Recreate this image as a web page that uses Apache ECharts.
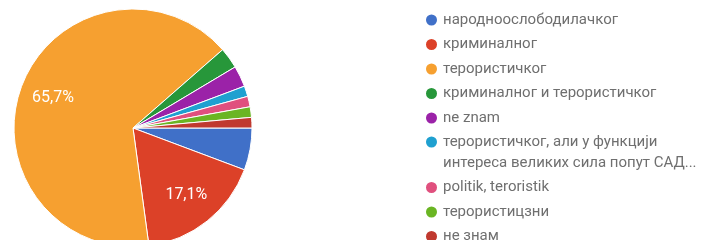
<!DOCTYPE html>
<html>
<head>
<meta charset="utf-8">
<script src="https://cdn.jsdelivr.net/npm/echarts@6/dist/echarts.min.js"></script>
<style>
  html, body { margin: 0; padding: 0; background: #fff; }
  #chart { width: 719px; height: 240px; }
</style>
</head>
<body>
<div id="chart"></div>
<script>
// одговори (редослед као у легенди)
const categories = [
  'народноослободилачког',
  'криминалног',
  'терористичког',
  'криминалног и терористичког',
  'ne znam',
  'терористичког, али у функцији интереса великих сила попут САД...',
  'politik, teroristik',
  'терористицзни',
  'не знам'
]
const counts = [4, 12, 46, 2, 2, 1, 1, 1, 1]
const colors = ['#4070c8', '#dc4128', '#f6a030', '#27973a', '#9b22a8', '#1fa0d0', '#e0507e', '#6ab523', '#c0392f']

const total = counts.reduce((a, b) => a + b, 0)
const pieData = categories.map((name, i) => ({ name: name, value: counts[i] }))

const chart = echarts.init(document.getElementById('chart'))

const legendText = {
  fontFamily: 'Roboto',
  fontSize: 15,
  color: '#6f6f6f',
  lineHeight: 21
}

chart.setOption({
  animation: false,
  color: colors,
  legend: [
    {
      // први део легенде
      orient: 'vertical',
      left: 424,
      top: 9.5,
      padding: 0,
      itemGap: 3.5,
      itemWidth: 13,
      itemHeight: 13,
      icon: 'circle',
      textStyle: legendText,
      data: categories.slice(0, 5)
    },
    {
      // други део: прва ставка у два реда, празан ред изнад да би први ред стао уз круг
      orient: 'vertical',
      left: 424,
      top: 110.5,
      padding: 0,
      itemGap: 3.5,
      itemWidth: 13,
      itemHeight: 13,
      icon: 'circle',
      textStyle: legendText,
      formatter: function (name) {
        if (name.indexOf('функцији ') < 0) return name
        return ' \n' + name.replace('функцији ', 'функцији\n')
      },
      data: categories.slice(5)
    }
  ],
  series: [
    {
      type: 'pie',
      center: [133, 128],
      radius: 119,
      startAngle: 0,
      clockwise: true,
      avoidLabelOverlap: false,
      itemStyle: { borderColor: '#fff', borderWidth: 1 },
      label: { show: false },
      labelLine: { show: false },
      data: pieData
    },
    {
      // проценти унутар великих исечака
      type: 'pie',
      center: [133, 128],
      radius: [46, 119],
      startAngle: 0,
      clockwise: true,
      silent: true,
      avoidLabelOverlap: false,
      itemStyle: { color: 'rgba(0,0,0,0)' },
      label: {
        show: true,
        position: 'inside',
        fontFamily: 'Roboto',
        fontSize: 16,
        color: '#fff',
        formatter: function (p) {
          const pct = p.value / total * 100
          return pct > 10 ? pct.toFixed(1).replace('.', ',') + '%' : ''
        }
      },
      labelLine: { show: false },
      data: pieData
    }
  ]
})
</script>
</body>
</html>
